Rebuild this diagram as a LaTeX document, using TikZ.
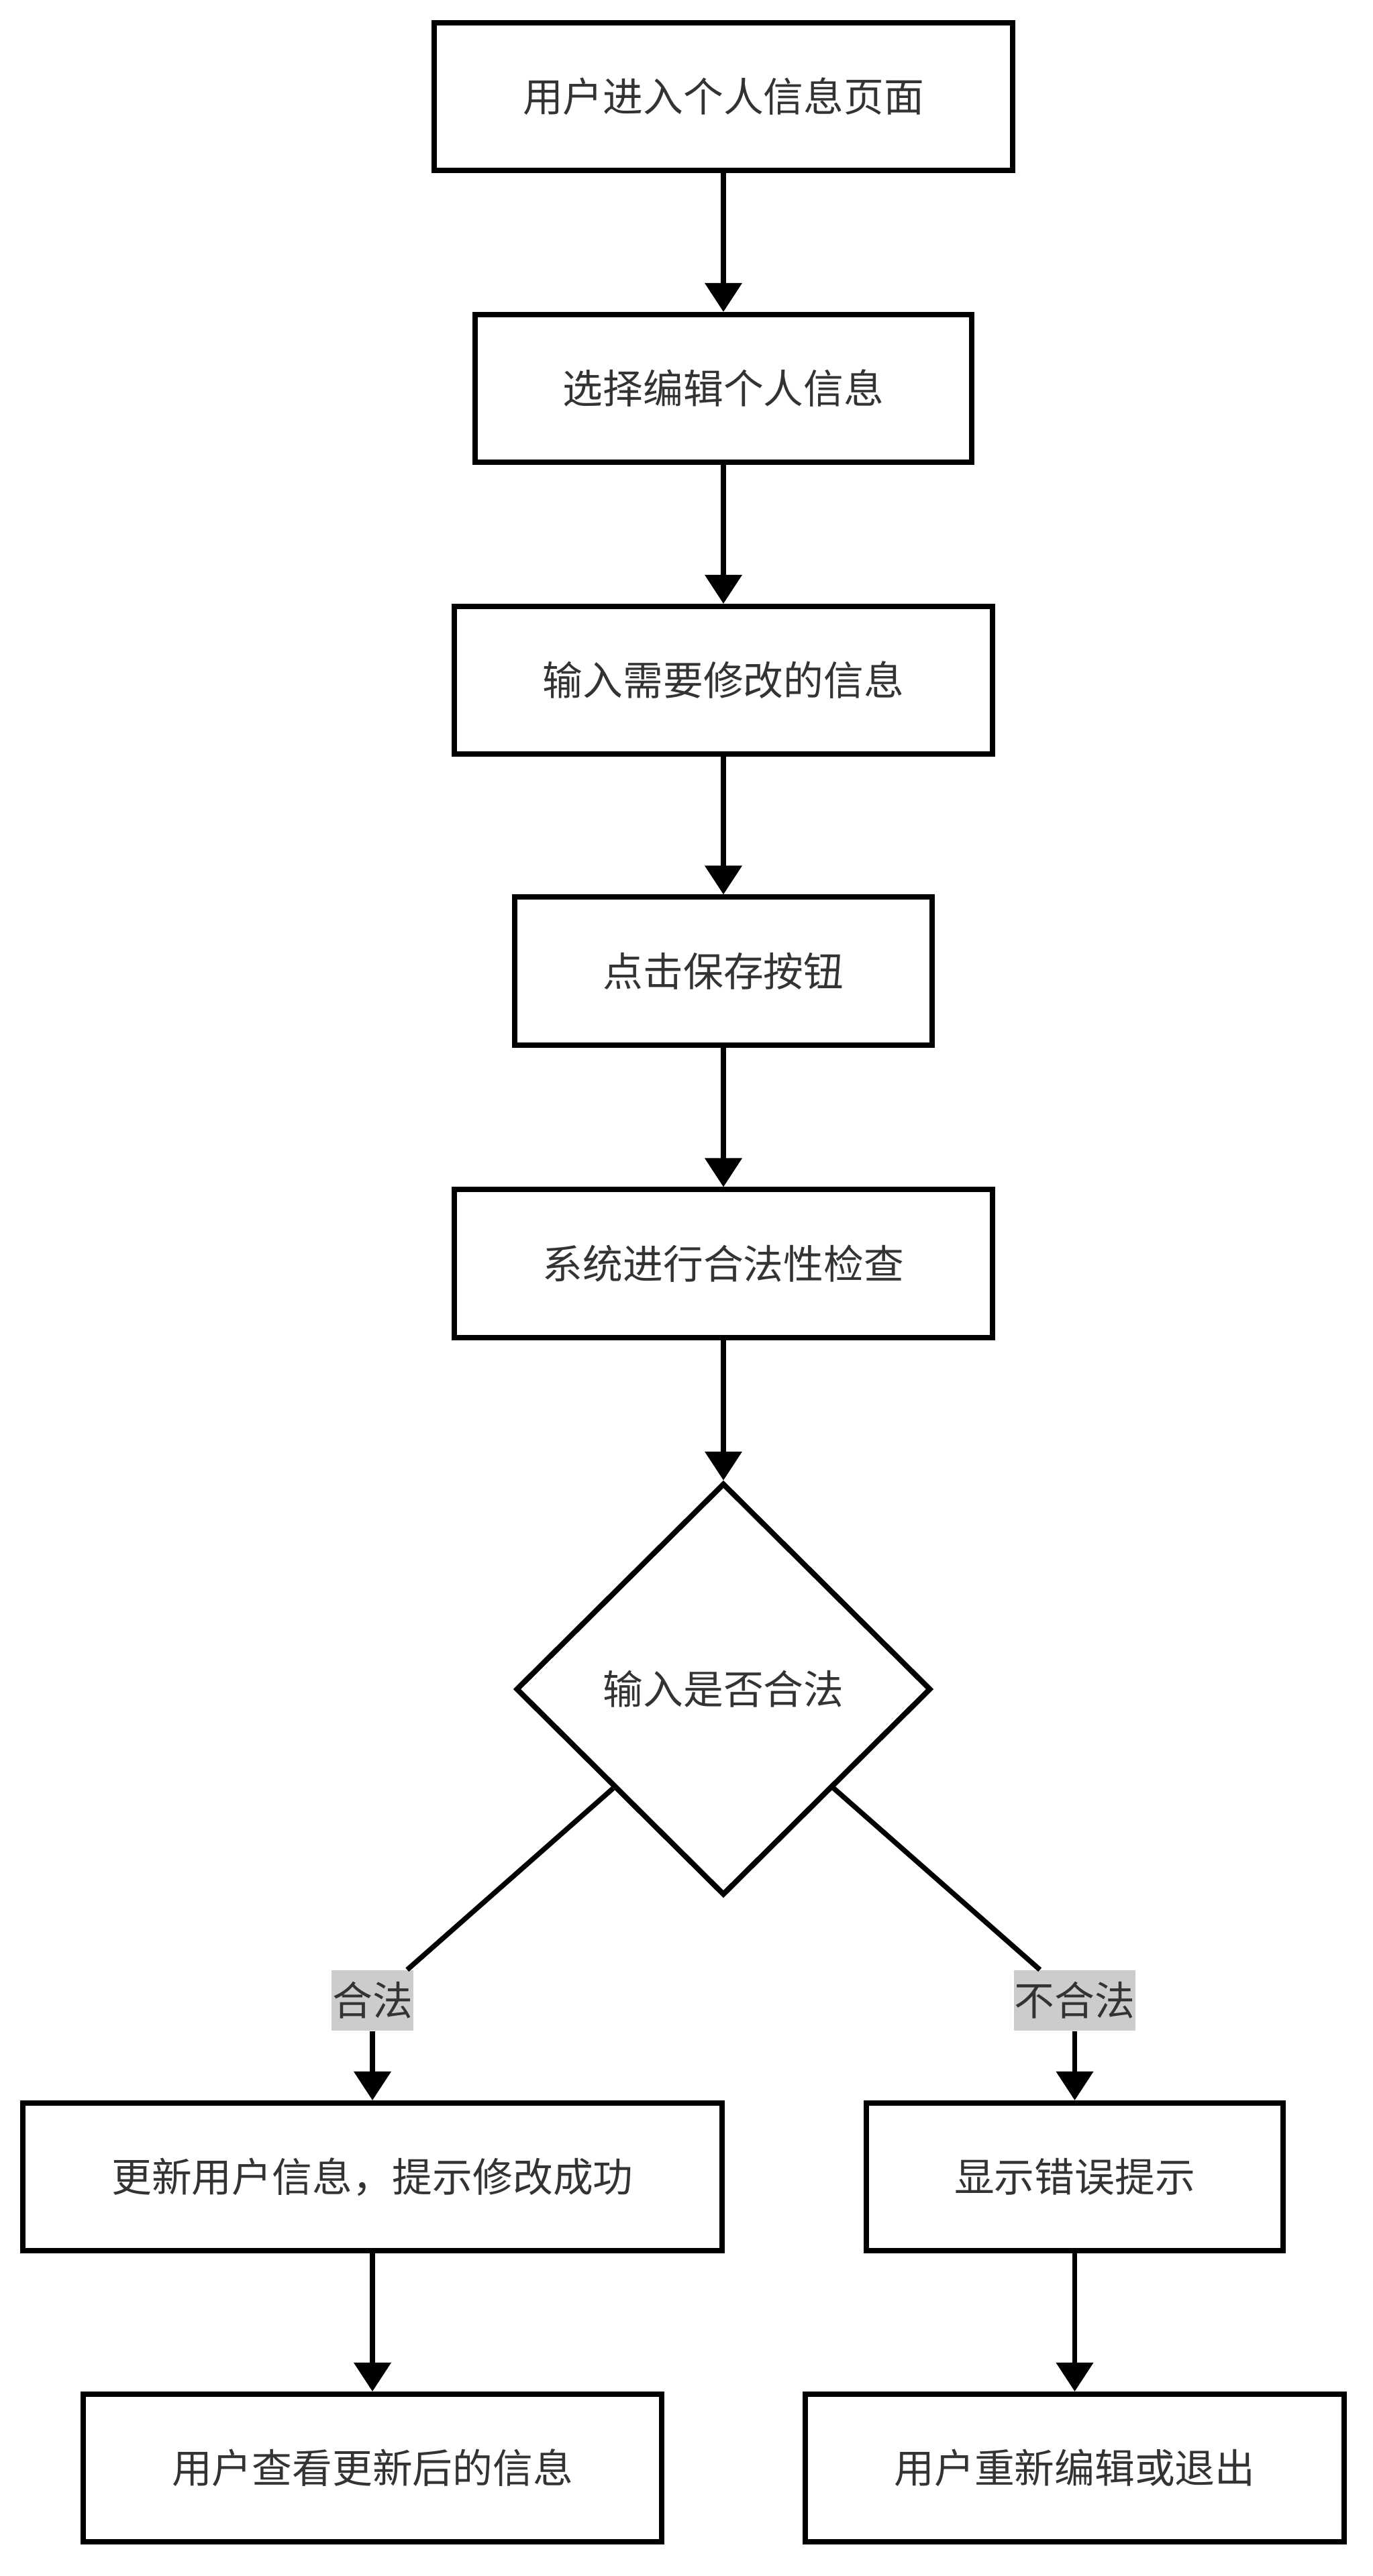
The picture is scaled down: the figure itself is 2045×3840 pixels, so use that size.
\documentclass[tikz,border=0pt]{standalone}
\usepackage{fontspec}
\newfontfamily\cjk{Noto Sans CJK SC}
\usetikzlibrary{shapes.geometric,arrows.meta,calc}
\definecolor{txt}{HTML}{333333}
\definecolor{lblbg}{HTML}{CCCCCC}
\begin{document}
\begin{tikzpicture}[x=0.01cm,y=-0.01cm,
  every node/.style={font=\cjk\fontsize{17}{20}\selectfont, text=txt},
  stepbox/.style={draw=black, line width=0.08cm, fill=white, rectangle, inner sep=0pt, minimum height=2.20cm},
  decision/.style={draw=black, line width=0.08cm, fill=white, diamond, inner sep=0pt, minimum width=6.18cm, minimum height=6.14cm},
  lbl/.style={fill=lblbg, inner sep=0pt, minimum height=0.9cm},
  conn/.style={line width=0.075cm, draw=black},
  arr/.style={conn, -{Triangle[width=0.54cm,length=0.43cm]}}]
\useasboundingbox (0,0) rectangle (2045,3840);
\node[stepbox, minimum width=8.62cm] (b1) at (1078,144) {用户进入个人信息页面};
\node[stepbox, minimum width=7.40cm] (b2) at (1078,579) {选择编辑个人信息};
\node[stepbox, minimum width=8.01cm] (b3) at (1078,1014) {输入需要修改的信息};
\node[stepbox, minimum width=6.22cm] (b4) at (1078,1447.5) {点击保存按钮};
\node[stepbox, minimum width=8.01cm] (b5) at (1078,1883.5) {系统进行合法性检查};
\node[decision] (dia) at (1078,2518) {输入是否合法};
\node[lbl, minimum width=1.21cm] (l1) at (555,2982) {合法};
\node[lbl, minimum width=1.8cm] (l2) at (1601.5,2982) {不合法};
\node[stepbox, minimum width=10.42cm] (b6) at (555,3245) {更新用户信息，提示修改成功};
\node[stepbox, minimum width=6.21cm] (b7) at (1601.5,3245) {显示错误提示};
\node[stepbox, minimum width=8.62cm] (b8) at (555,3679) {用户查看更新后的信息};
\node[stepbox, minimum width=8.02cm] (b9) at (1601.5,3679) {用户重新编辑或退出};
\coordinate (dl) at ($(dia.west)!0.475!(dia.south)$);
\coordinate (dr) at ($(dia.east)!0.475!(dia.south)$);
\draw[arr] (b1) -- (b2);
\draw[arr] (b2) -- (b3);
\draw[arr] (b3) -- (b4);
\draw[arr] (b4) -- (b5);
\draw[arr] (b5) -- (dia);
\draw[conn] (dl) -- (l1);
\draw[conn] (dr) -- (l2);
\draw[arr] (l1) -- (b6);
\draw[arr] (l2) -- (b7);
\draw[arr] (b6) -- (b8);
\draw[arr] (b7) -- (b9);
\end{tikzpicture}
\end{document}
